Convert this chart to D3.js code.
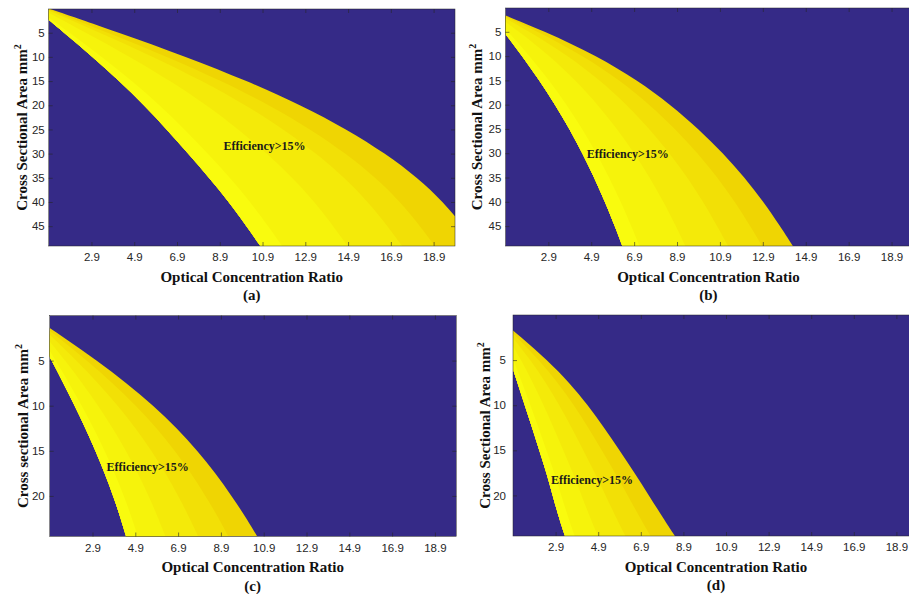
<!DOCTYPE html>
<html>
<head>
<meta charset="utf-8">
<script src="https://cdn.jsdelivr.net/npm/d3@7"></script>
<style>
  body { margin: 0; background: #fff; }
  svg { display: block; }
</style>
</head>
<body>
<script>
"use strict";

// tick labels
const xTicks = [2.9, 4.9, 6.9, 8.9, 10.9, 12.9, 14.9, 16.9, 18.9];
const yTicksTop = [5, 10, 15, 20, 25, 30, 35, 40, 45];
const yTicksBottom = [5, 10, 15, 20];

// cross sectional area rows (mm^2) where the band edges were read
const rowsTop = [0, 5, 10, 15, 20, 25, 30, 35, 40, 45, 49.1];
const rowsBottom = [0, 2.5, 5, 7.5, 10, 12.5, 15, 17.5, 20, 22.5, 24.5];

// concentration ratio of each colour edge at those rows, lower edge -> upper edge
const aLower = [0.26, 1.62, 2.96, 4.2, 5.37, 6.42, 7.42, 8.4, 9.33, 10.15, 10.8];
const aS1    = [0.32, 1.88, 3.4, 4.8, 6.1, 7.26, 8.34, 9.38, 10.33, 11.17, 11.82];
const aS2    = [0.52, 2.65, 4.72, 6.6, 8.3, 9.79, 11.11, 12.3, 13.34, 14.21, 14.88];
const aS3    = [0.68, 3.3, 5.81, 8.1, 10.13, 11.9, 13.42, 14.74, 15.84, 16.75, 17.43];
const aS4    = [0.77, 3.68, 6.47, 9.0, 11.23, 13.16, 14.8, 16.2, 17.35, 18.27, 18.96];
const aUpper = [0.9, 4.2, 7.35, 10.2, 12.7, 14.85, 16.65, 18.15, 19.35, 20.3, 21.0];

const bLower = [-0.05, 0.83, 1.68, 2.48, 3.22, 3.89, 4.49, 5.04, 5.54, 6.0, 6.35];
const bS1    = [-0.04, 1.03, 2.03, 2.94, 3.76, 4.49, 5.15, 5.74, 6.28, 6.77, 7.15];
const bS2    = [-0.03, 1.56, 2.97, 4.17, 5.21, 6.11, 6.92, 7.63, 8.27, 8.85, 9.29];
const bS3    = [-0.02, 2.05, 3.84, 5.31, 6.56, 7.62, 8.56, 9.39, 10.12, 10.77, 11.28];
const bS4    = [-0.01, 2.45, 4.54, 6.23, 7.63, 8.82, 9.87, 10.79, 11.6, 12.31, 12.87];
const bUpper = [0.0, 2.8, 5.17, 7.05, 8.6, 9.9, 11.05, 12.05, 12.93, 13.7, 14.3];

const cLower = [-0.12, 0.43, 0.99, 1.54, 2.07, 2.57, 3.04, 3.47, 3.87, 4.22, 4.47];
const cS1    = [-0.11, 0.54, 1.18, 1.81, 2.4, 2.96, 3.47, 3.94, 4.37, 4.75, 5.02];
const cS2    = [-0.08, 0.78, 1.62, 2.43, 3.17, 3.85, 4.47, 5.02, 5.53, 5.98, 6.31];
const cS3    = [-0.04, 1.07, 2.15, 3.17, 4.09, 4.92, 5.66, 6.32, 6.91, 7.45, 7.84];
const cS4    = [-0.01, 1.34, 2.64, 3.85, 4.94, 5.91, 6.75, 7.51, 8.18, 8.81, 9.25];
const cUpper = [0.02, 1.6, 3.1, 4.5, 5.75, 6.85, 7.8, 8.65, 9.4, 10.1, 10.6];

const dLower = [0.05, 0.41, 0.76, 1.11, 1.45, 1.8, 2.13, 2.47, 2.76, 3.06, 3.34];
const dS1    = [0.05, 0.49, 0.92, 1.33, 1.72, 2.1, 2.47, 2.84, 3.17, 3.5, 3.8];
const dS2    = [0.05, 0.68, 1.28, 1.84, 2.34, 2.81, 3.26, 3.71, 4.12, 4.53, 4.89];
const dS3    = [0.05, 0.9, 1.72, 2.45, 3.08, 3.66, 4.2, 4.74, 5.25, 5.75, 6.18];
const dS4    = [0.05, 1.1, 2.12, 3.01, 3.77, 4.44, 5.07, 5.69, 6.29, 6.87, 7.36];
const dUpper = [0.05, 1.3, 2.5, 3.55, 4.42, 5.18, 5.9, 6.6, 7.28, 7.95, 8.5];

const bgColor = "#352a87";
const bandColors = ["#f9fb0e", "#f6f30b", "#f4ea09", "#f2e006", "#efd503"];

const width = 909, height = 594;
const svg = d3.select("body").append("svg")
    .attr("width", width)
    .attr("height", height);

const panels = [
  {id: "a", left: 48.7, right: 455, top: 9, bottom: 246, yDomain: [0.1, 49.1],
   rows: rowsTop, curves: [aLower, aS1, aS2, aS3, aS4, aUpper], yTicks: yTicksTop,
   yLabel: "Cross Sectional Area mm", note: [9.07, 29.25], labelGap: 4, titleGap: 22},
  {id: "b", left: 505.4, right: 913, top: 8, bottom: 246, yDomain: [0.1, 49.1],
   rows: rowsTop, curves: [bLower, bS1, bS2, bS3, bS4, bUpper], yTicks: yTicksTop,
   yLabel: "Cross Sectional Area mm", note: [4.69, 31.0], labelGap: 4, titleGap: 23},
  {id: "c", left: 49.7, right: 456.3, top: 315.5, bottom: 536.5, yDomain: [0, 24.5],
   rows: rowsBottom, curves: [cLower, cS1, cS2, cS3, cS4, cUpper], yTicks: yTicksBottom,
   yLabel: "Cross sectional Area mm", note: [3.56, 17.2], labelGap: 5, titleGap: 22},
  {id: "d", left: 513, right: 917.7, top: 315, bottom: 536, yDomain: [0, 24.5],
   rows: rowsBottom, curves: [dLower, dS1, dS2, dS3, dS4, dUpper], yTicks: yTicksBottom,
   yLabel: "Cross Sectional Area mm", note: [2.68, 18.76], labelGap: 7, titleGap: 23}
];

const serif = "'Liberation Serif', 'Times New Roman', serif";
const sans = "'Liberation Sans', Arial, sans-serif";

panels.forEach(p => {
  const x = d3.scaleLinear([0.9, 19.9], [p.left, p.right]);
  const y = d3.scaleLinear(p.yDomain, [p.top, p.bottom]);
  const g = svg.append("g");

  g.append("clipPath").attr("id", "clip-" + p.id)
    .append("rect")
      .attr("x", p.left).attr("y", p.top)
      .attr("width", p.right - p.left).attr("height", p.bottom - p.top);

  const plot = g.append("g").attr("clip-path", `url(#clip-${p.id})`);
  plot.append("rect")
      .attr("x", p.left).attr("y", p.top)
      .attr("width", p.right - p.left).attr("height", p.bottom - p.top)
      .attr("fill", bgColor);

  // nested bands, widest first so each lighter band sits on top
  const lower = p.curves[0];
  for (let k = bandColors.length - 1; k >= 0; k--) {
    const upper = p.curves[k + 1];
    const pts = p.rows.map((r, i) => ({r, lo: lower[i], hi: upper[i]}));
    const area = d3.area()
        .y(d => y(d.r))
        .x0(d => x(d.lo))
        .x1(d => x(d.hi))
        .curve(d3.curveBasis);
    plot.append("path")
        .attr("d", area(pts))
        .attr("fill", bandColors[k]);
  }

  plot.append("text")
      .attr("x", x(p.note[0]))
      .attr("y", y(p.note[1]))
      .style("font", `bold 12px ${serif}`)
      .attr("fill", "#1a1a1a")
      .text("Efficiency>15%");

  // axes, MATLAB style: ticks inside on all four sides
  const bottomAxis = g.append("g")
      .attr("transform", `translate(0,${p.bottom})`)
      .call(d3.axisBottom(x).tickValues(xTicks).tickFormat(d3.format(".1f"))
        .tickSizeInner(-4).tickSizeOuter(0).tickPadding(7.3));
  const topAxis = g.append("g")
      .attr("transform", `translate(0,${p.top})`)
      .call(d3.axisTop(x).tickValues(xTicks).tickFormat("")
        .tickSizeInner(-4).tickSizeOuter(0));
  const leftAxis = g.append("g")
      .attr("transform", `translate(${p.left},0)`)
      .call(d3.axisLeft(y).tickValues(p.yTicks)
        .tickSizeInner(-4).tickSizeOuter(0).tickPadding(p.labelGap));
  const rightAxis = g.append("g")
      .attr("transform", `translate(${p.right},0)`)
      .call(d3.axisRight(y).tickValues(p.yTicks).tickFormat("")
        .tickSizeInner(-4).tickSizeOuter(0));

  [bottomAxis, topAxis, leftAxis, rightAxis].forEach(a => {
    a.select(".domain").remove();
    a.selectAll(".tick line").attr("stroke", "#262626").attr("stroke-width", 0.6);
    a.selectAll(".tick text")
        .attr("fill", "#262626")
        .style("font", `11.5px ${sans}`);
  });

  g.append("rect")
      .attr("x", p.left).attr("y", p.top)
      .attr("width", p.right - p.left).attr("height", p.bottom - p.top)
      .attr("fill", "none")
      .attr("stroke", "#262626")
      .attr("stroke-width", 0.5);

  const midX = p.left + 203;
  g.append("text")
      .attr("x", midX)
      .attr("y", p.bottom + 35.5)
      .attr("text-anchor", "middle")
      .style("font", `bold 15px ${serif}`)
      .attr("fill", "#111")
      .text("Optical Concentration Ratio");

  g.append("text")
      .attr("x", midX)
      .attr("y", p.bottom + 54)
      .attr("text-anchor", "middle")
      .style("font", `bold 15px ${serif}`)
      .attr("fill", "#111")
      .text(`(${p.id})`);

  const midY = (p.top + p.bottom) / 2;
  const yl = g.append("text")
      .attr("transform", `translate(${p.left - p.titleGap},${midY}) rotate(-90)`)
      .attr("text-anchor", "middle")
      .style("font", `bold 15px ${serif}`)
      .attr("fill", "#111");
  yl.append("tspan").text(p.yLabel);
  yl.append("tspan").attr("dy", -6).style("font-size", "10px").text("2");
});
</script>
</body>
</html>
